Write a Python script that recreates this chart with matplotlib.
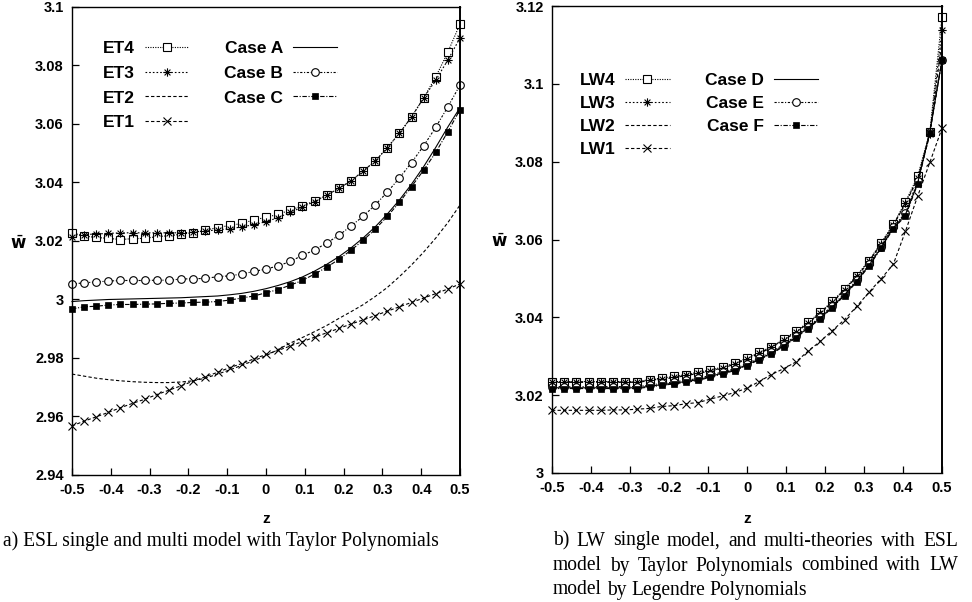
import numpy as np
import matplotlib
matplotlib.use("Agg")
import matplotlib.pyplot as plt
from matplotlib.path import Path
from matplotlib.ticker import FuncFormatter

# ---------------- data ----------------
z = [-0.5, -0.46875, -0.4375, -0.40625, -0.375, -0.34375, -0.3125, -0.28125, -0.25,
     -0.21875, -0.1875, -0.15625, -0.125, -0.09375, -0.0625, -0.03125, 0.0, 0.03125,
     0.0625, 0.09375, 0.125, 0.15625, 0.1875, 0.21875, 0.25, 0.28125, 0.3125, 0.34375,
     0.375, 0.40625, 0.4375, 0.46875, 0.5]

# panel a)
ET4 = [3.0228, 3.0217, 3.0212, 3.0209, 3.0205, 3.0208, 3.0209, 3.0215, 3.0218, 3.0223,
       3.0229, 3.0237, 3.0246, 3.0253, 3.0260, 3.0272, 3.0281, 3.0291, 3.0306, 3.0320,
       3.0337, 3.0356, 3.0380, 3.0405, 3.0439, 3.0473, 3.0519, 3.0568, 3.0624, 3.0689,
       3.0761, 3.0846, 3.0942]
ET3 = [3.0215, 3.0222, 3.0224, 3.0226, 3.0228, 3.0228, 3.0228, 3.0228, 3.0228, 3.0228,
       3.0230, 3.0234, 3.0238, 3.0242, 3.0248, 3.0256, 3.0266, 3.0280, 3.0298, 3.0316,
       3.0335, 3.0356, 3.0380, 3.0405, 3.0439, 3.0473, 3.0519, 3.0568, 3.0624, 3.0689,
       3.0750, 3.0819, 3.0894]
ET2 = [2.9745, 2.9738, 2.9731, 2.9726, 2.9722, 2.9719, 2.9717, 2.9716, 2.9716, 2.9718,
       2.9722, 2.9731, 2.9745, 2.9759, 2.9775, 2.9791, 2.9808, 2.9829, 2.9851, 2.9870,
       2.9890, 2.9911, 2.9935, 2.9958, 2.9982, 3.0010, 3.0041, 3.0078, 3.0118, 3.0162,
       3.0210, 3.0263, 3.0323]
ET1 = [2.9568, 2.9584, 2.9599, 2.9614, 2.9630, 2.9645, 2.9659, 2.9675, 2.9690, 2.9705,
       2.9721, 2.9736, 2.9751, 2.9767, 2.9781, 2.9797, 2.9812, 2.9826, 2.9841, 2.9856,
       2.9871, 2.9886, 2.9901, 2.9916, 2.9930, 2.9945, 2.9960, 2.9975, 2.9990, 3.0005,
       3.0020, 3.0036, 3.0053]
CaseA = [2.9993, 2.9996, 2.9998, 3.0000, 3.0001, 3.0002, 3.0003, 3.0004, 3.0005, 3.0006,
         3.0008, 3.0010, 3.0012, 3.0016, 3.0021, 3.0028, 3.0037, 3.0048, 3.0061, 3.0077,
         3.0097, 3.0120, 3.0146, 3.0176, 3.0210, 3.0248, 3.0292, 3.0340, 3.0394, 3.0454,
         3.0520, 3.0590, 3.0656]
CaseB = [3.0053, 3.0057, 3.0060, 3.0063, 3.0065, 3.0065, 3.0065, 3.0066, 3.0066, 3.0070,
         3.0071, 3.0072, 3.0078, 3.0081, 3.0087, 3.0096, 3.0104, 3.0115, 3.0130, 3.0151,
         3.0169, 3.0193, 3.0219, 3.0251, 3.0284, 3.0323, 3.0367, 3.0415, 3.0468, 3.0525,
         3.0589, 3.0659, 3.0733]
CaseC = [2.9968, 2.9975, 2.9977, 2.9981, 2.9983, 2.9983, 2.9984, 2.9985, 2.9987, 2.9988,
         2.9990, 2.9991, 2.9993, 2.9998, 3.0005, 3.0012, 3.0023, 3.0034, 3.0049, 3.0065,
         3.0087, 3.0110, 3.0137, 3.0168, 3.0202, 3.0240, 3.0284, 3.0332, 3.0386, 3.0442,
         3.0503, 3.0574, 3.0649]

# panel b)
LW4 = [3.0235, 3.0235, 3.0235, 3.0235, 3.0235, 3.0235, 3.0235, 3.0235, 3.0240, 3.0244,
       3.0248, 3.0253, 3.0259, 3.0265, 3.0272, 3.0283, 3.0295, 3.0310, 3.0325, 3.0344,
       3.0364, 3.0387, 3.0413, 3.0441, 3.0473, 3.0507, 3.0546, 3.0591, 3.0639, 3.0696,
       3.0762, 3.0876, 3.1172]
LW3 = [3.0234, 3.0234, 3.0234, 3.0234, 3.0234, 3.0234, 3.0234, 3.0234, 3.0238, 3.0242,
       3.0246, 3.0251, 3.0257, 3.0263, 3.0270, 3.0281, 3.0293, 3.0308, 3.0323, 3.0342,
       3.0362, 3.0385, 3.0411, 3.0439, 3.0471, 3.0505, 3.0544, 3.0589, 3.0637, 3.0694,
       3.0758, 3.0872, 3.1138]
LW2 = [3.0233, 3.0233, 3.0233, 3.0233, 3.0233, 3.0233, 3.0233, 3.0233, 3.0237, 3.0241,
       3.0245, 3.0250, 3.0256, 3.0262, 3.0269, 3.0280, 3.0292, 3.0307, 3.0322, 3.0341,
       3.0361, 3.0384, 3.0410, 3.0438, 3.0470, 3.0504, 3.0543, 3.0588, 3.0636, 3.0692,
       3.0755, 3.0868, 3.1110]
LW1 = [3.0161, 3.0161, 3.0161, 3.0161, 3.0161, 3.0162, 3.0162, 3.0164, 3.0166, 3.0171,
       3.0173, 3.0178, 3.0181, 3.0190, 3.0198, 3.0207, 3.0218, 3.0235, 3.0253, 3.0268,
       3.0285, 3.0313, 3.0338, 3.0366, 3.0394, 3.0428, 3.0464, 3.0499, 3.0536, 3.0621,
       3.0711, 3.0798, 3.0886]
CaseD = [3.0219, 3.0219, 3.0219, 3.0219, 3.0219, 3.0219, 3.0219, 3.0219, 3.0223, 3.0227,
         3.0231, 3.0235, 3.0240, 3.0248, 3.0257, 3.0265, 3.0278, 3.0293, 3.0308, 3.0327,
         3.0349, 3.0373, 3.0398, 3.0427, 3.0458, 3.0493, 3.0533, 3.0579, 3.0630, 3.0664,
         3.0745, 3.0876, 3.1061]
CaseE = [3.0222, 3.0222, 3.0222, 3.0222, 3.0222, 3.0222, 3.0222, 3.0222, 3.0226, 3.0230,
         3.0234, 3.0238, 3.0243, 3.0251, 3.0260, 3.0268, 3.0281, 3.0296, 3.0311, 3.0330,
         3.0352, 3.0376, 3.0401, 3.0430, 3.0461, 3.0496, 3.0536, 3.0582, 3.0633, 3.0668,
         3.0750, 3.0876, 3.1061]
CaseF = [3.0217, 3.0217, 3.0217, 3.0217, 3.0217, 3.0217, 3.0217, 3.0217, 3.0221, 3.0225,
         3.0229, 3.0233, 3.0238, 3.0246, 3.0255, 3.0263, 3.0276, 3.0291, 3.0306, 3.0325,
         3.0347, 3.0371, 3.0396, 3.0425, 3.0456, 3.0491, 3.0531, 3.0577, 3.0628, 3.0660,
         3.0742, 3.0874, 3.1061]

labels_a = ["ET4", "ET3", "ET2", "ET1", "Case A", "Case B", "Case C"]
labels_b = ["LW4", "LW3", "LW2", "LW1", "Case D", "Case E", "Case F"]
xticks = [-0.5, -0.4, -0.3, -0.2, -0.1, 0, 0.1, 0.2, 0.3, 0.4, 0.5]
yticks_a = [2.94, 2.96, 2.98, 3.0, 3.02, 3.04, 3.06, 3.08, 3.1]
yticks_b = [3.0, 3.02, 3.04, 3.06, 3.08, 3.1, 3.12]
caption_a = "a) ESL single and multi model with Taylor Polynomials"
caption_b = ["b) LW single model, and multi-theories with ESL",
             "model by Taylor Polynomials combined with LW",
             "model by Legendre  Polynomials"]

# ---------------- styles ----------------
ast = Path([(-1, 0), (1, 0), (0, -1), (0, 1), (-0.7, -0.7), (0.7, 0.7), (-0.7, 0.7), (0.7, -0.7)],
           [Path.MOVETO, Path.LINETO] * 4)
styles = [
    dict(ls=(0, (1, 1.2)), marker="s", ms=5.3, mfc="white", mew=0.8),     # *4 dotted + square
    dict(ls=(0, (1.5, 1.8)), marker=ast, ms=6, mfc="none", mew=0.8),      # *3 + asterisk
    dict(ls=(0, (3, 2)), marker=None),                                    # *2 dashed
    dict(ls=(0, (3, 2)), marker="x", ms=5.5, mew=0.8),                    # *1 dashed + x
    dict(ls="-", marker=None),                                            # Case solid
    dict(ls=(0, (2, 1.5, 1, 1.5)), marker="o", ms=5.5, mfc="white", mew=0.8),
    dict(ls=(0, (4, 1.5, 1, 1.5)), marker="s", ms=4.6, mfc="black", mew=0.5),
]

plt.rcParams["font.family"] = ["Liberation Sans", "DejaVu Sans"]
fig = plt.figure(figsize=(9.72, 6.02), dpi=100)
W, H = 972, 602


def make_axes(l, r, t, b):
    return fig.add_axes([l / W, 1 - b / H, (r - l) / W, (b - t) / H])


ax_a = make_axes(72, 460, 7, 475)
ax_b = make_axes(552, 942, 6, 473)

series_a = [ET4, ET3, ET2, ET1, CaseA, CaseB, CaseC]
series_b = [LW4, LW3, LW2, LW1, CaseD, CaseE, CaseF]

for ax, series, labels in ((ax_a, series_a, labels_a), (ax_b, series_b, labels_b)):
    order = [2, 3, 5, 4, 6, 0, 1] if ax is ax_a else [2, 3, 0, 1, 5, 4, 6]
    for i in order:
        st = styles[i]
        ax.plot(z, series[i], color="black", lw=0.8, linestyle=st["ls"],
                marker=st.get("marker"), markersize=st.get("ms", 5),
                markerfacecolor=st.get("mfc", "black"),
                markeredgecolor="black", markeredgewidth=st.get("mew", 0.8),
                clip_on=False, label=labels[i])
    ax.set_xlim(-0.5, 0.5)
    ax.set_xticks(xticks)
    ax.xaxis.set_major_formatter(FuncFormatter(lambda v, p: "%g" % round(v, 2) if abs(v) > 1e-9 else "0"))
    ax.yaxis.set_major_formatter(FuncFormatter(lambda v, p: "%g" % round(v, 3)))
    ax.tick_params(direction="in", length=5, width=0.9, top=False, right=False,
                   labelsize=10.5, pad=6)
    for sp in ax.spines.values():
        sp.set_linewidth(1.0)
    ax.spines["right"].set_linewidth(1.4)
    ax.set_xlabel("z", fontsize=11, fontweight="bold")
    ax.set_ylabel(r"$\bar{\mathbf{w}}$", fontsize=12, rotation=0, va="center", ha="center")

ax_a.set_ylim(2.94, 3.1)
ax_a.set_yticks(yticks_a)
ax_b.set_ylim(3.0, 3.12)
ax_b.set_yticks(yticks_b)
for ax in (ax_a, ax_b):
    for lab in ax.get_xticklabels() + ax.get_yticklabels():
        lab.set_fontweight("bold")

ax_a.xaxis.set_label_coords(0.5, -(512 - 475) / 468)
ax_b.xaxis.set_label_coords(0.5, -(512 - 473) / 467)
ax_a.yaxis.set_label_coords((18 - 72) / 388, 1 - (243 - 7) / 468)
ax_b.yaxis.set_label_coords((499 - 552) / 390, 1 - (241 - 6) / 467)

leg_kw = dict(ncol=2, markerfirst=False, frameon=False, loc="upper left",
              prop=dict(weight="bold", size=12.5), handlelength=2.55,
              handletextpad=0.55, columnspacing=2.05,
              borderpad=0, borderaxespad=0)
h_a, l_a = ax_a.get_legend_handles_labels()
idx = {l: h for h, l in zip(h_a, l_a)}
ax_a.legend([idx[l] for l in labels_a], labels_a, labelspacing=0.55,
            bbox_to_anchor=((103 - 72) / 388, 1 - (41 - 7) / 468), **leg_kw)
h_b, l_b = ax_b.get_legend_handles_labels()
idx = {l: h for h, l in zip(h_b, l_b)}
ax_b.legend([idx[l] for l in labels_b], labels_b, labelspacing=0.45,
            bbox_to_anchor=((580 - 552) / 390, 1 - (73 - 6) / 467), **leg_kw)

# ---------------- captions ----------------
serif = ["Liberation Serif", "DejaVu Serif"]
renderer = fig.canvas.get_renderer()
probe = fig.text(0, 0, caption_a, family=serif, fontsize=12)
wpx = probe.get_window_extent(renderer).width
probe.remove()
fs = 12 * 435 / wpx

fig.text(3 / W, 1 - 541 / H, caption_a, family=serif, fontsize=fs, va="center", ha="left")


def justified(line, x0, x1, yc, justify=True):
    words = [w for w in line.split(" ") if w]
    texts = [fig.text(0, 1 - yc / H, w, family=serif, fontsize=fs, va="center", ha="left") for w in words]
    widths = [t.get_window_extent(renderer).width for t in texts]
    if justify and len(words) > 1:
        gap = (x1 - x0 - sum(widths)) / (len(words) - 1)
    else:
        sp = fig.text(0, 0, "a a", family=serif, fontsize=fs)
        sp2 = fig.text(0, 0, "aa", family=serif, fontsize=fs)
        gap = sp.get_window_extent(renderer).width - sp2.get_window_extent(renderer).width
        sp.remove(); sp2.remove()
    x = x0
    for t, w in zip(texts, widths):
        t.set_x(x / W)
        x += w + gap


justified(caption_b[0], 553, 958, 541)
justified(caption_b[1], 553, 958, 566)
justified(caption_b[2], 553, 958, 590, justify=False)

fig.savefig("out.png", dpi=100)
